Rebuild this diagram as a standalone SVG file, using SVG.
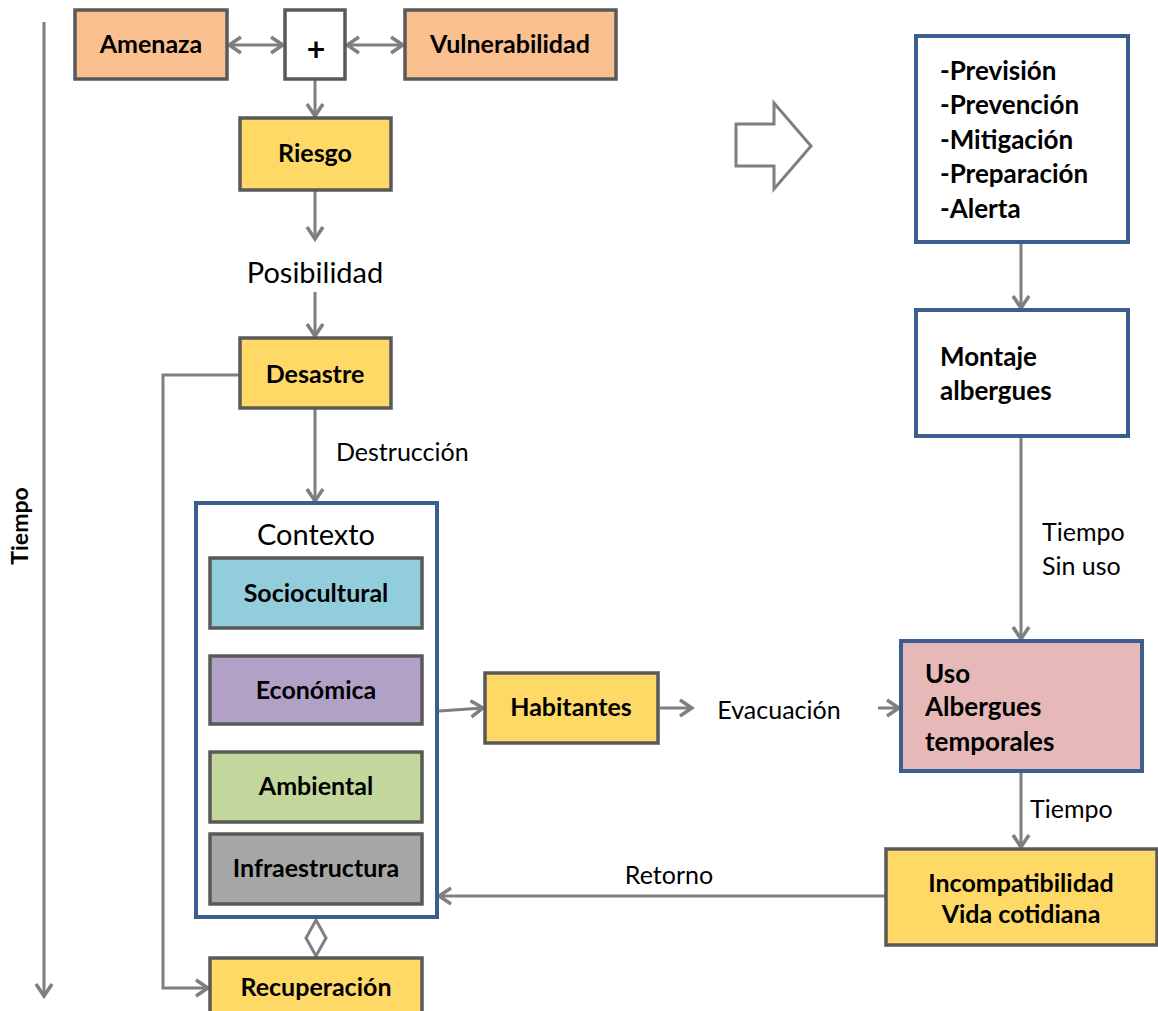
<svg xmlns="http://www.w3.org/2000/svg" width="1158" height="1011" viewBox="0 0 1158 1011">
<style>
.box{stroke:#595959;stroke-width:3.5}
.blue{stroke:#3A5F8E;stroke-width:4}
.t{font-family:Lato,"Liberation Sans",sans-serif;font-weight:bold;font-size:25px;fill:#000}
.l{font-size:26px}
.n{font-family:Lato,"Liberation Sans",sans-serif;font-size:25px;fill:#000}
.big{font-size:29px}
.c{stroke:#7F7F7F;stroke-width:3;fill:none}
</style>
<defs>
<marker id="a" viewBox="0 0 20 20" refX="17" refY="10" markerWidth="20" markerHeight="20" markerUnits="userSpaceOnUse" orient="auto-start-reverse">
<path d="M5,2 L17,10 L5,18" fill="none" stroke="#7F7F7F" stroke-width="3.5"/>
</marker>
</defs>
<rect width="1158" height="1011" fill="#fff"/>

<g id="connectors">
<line class="c" x1="44" y1="22" x2="44" y2="996" stroke-width="3.5" marker-end="url(#a)"/>
<line class="c" x1="229" y1="45" x2="283" y2="45" marker-start="url(#a)" marker-end="url(#a)"/>
<line class="c" x1="347" y1="45" x2="403" y2="45" marker-start="url(#a)" marker-end="url(#a)"/>
<line class="c" x1="315" y1="80" x2="315" y2="116" marker-end="url(#a)"/>
<line class="c" x1="315" y1="191" x2="315" y2="239" marker-end="url(#a)"/>
<line class="c" x1="315" y1="292" x2="315" y2="336" marker-end="url(#a)"/>
<line class="c" x1="315" y1="409" x2="315" y2="501" marker-end="url(#a)"/>
<polyline class="c" points="239,375 163,375 163,988 208,988" marker-end="url(#a)"/>
<line class="c" x1="439" y1="711" x2="483" y2="708" marker-end="url(#a)"/>
<line class="c" x1="660" y1="708" x2="692" y2="708" marker-end="url(#a)"/>
<line class="c" x1="878" y1="708" x2="899" y2="708" marker-end="url(#a)"/>
<line class="c" x1="1021" y1="243" x2="1021" y2="308" marker-end="url(#a)"/>
<line class="c" x1="1021" y1="437" x2="1021" y2="639" marker-end="url(#a)"/>
<line class="c" x1="1021" y1="772" x2="1021" y2="847" marker-end="url(#a)"/>
<line class="c" x1="885" y1="896" x2="439" y2="896" marker-end="url(#a)"/>
<polygon class="c" points="316,920 326,938 316,956 306,938"/>
<polygon points="736,124 774,124 774,103 811,146 774,189 774,166 736,166" fill="#fff" stroke="#7F7F7F" stroke-width="3"/>
</g>

<text class="t" transform="translate(28,526) rotate(-90)" text-anchor="middle" style="font-size:23px">Tiempo</text>

<g id="amenaza"><rect class="box" x="75" y="10" width="152" height="69" fill="#FAC090"/><text class="t" x="151" y="53" text-anchor="middle">Amenaza</text></g>
<g id="plus"><rect class="box" x="285" y="10" width="60" height="69" fill="#fff"/><text class="t" x="316" y="61" text-anchor="middle" style="font-size:32px">+</text></g>
<g id="vulnerabilidad"><rect class="box" x="405" y="10" width="211" height="69" fill="#FAC090"/><text class="t" x="510" y="53" text-anchor="middle">Vulnerabilidad</text></g>
<g id="riesgo"><rect class="box" x="240" y="118" width="151" height="72" fill="#FFD966"/><text class="t" x="315" y="162" text-anchor="middle">Riesgo</text></g>
<g id="posibilidad"><text class="n big" x="315" y="283" text-anchor="middle">Posibilidad</text></g>
<g id="desastre"><rect class="box" x="240" y="338" width="151" height="70" fill="#FFD966"/><text class="t" x="315" y="383" text-anchor="middle">Desastre</text></g>
<text class="n" x="336" y="461">Destrucción</text>

<g id="contexto">
<rect class="blue" x="196" y="503" width="241" height="414" fill="#fff"/>
<text class="n big" x="316" y="545" text-anchor="middle">Contexto</text>
</g>
<g id="sociocultural"><rect class="box" x="210" y="558" width="212" height="70" fill="#92CDDC"/><text class="t" x="316" y="602" text-anchor="middle">Sociocultural</text></g>
<g id="economica"><rect class="box" x="210" y="656" width="212" height="68" fill="#B2A1C7"/><text class="t" x="316" y="699" text-anchor="middle">Económica</text></g>
<g id="ambiental"><rect class="box" x="210" y="752" width="212" height="70" fill="#C3D69B"/><text class="t" x="316" y="795" text-anchor="middle">Ambiental</text></g>
<g id="infraestructura"><rect class="box" x="210" y="834" width="212" height="70" fill="#A6A6A6"/><text class="t" x="316" y="877" text-anchor="middle">Infraestructura</text></g>
<g id="recuperacion"><rect class="box" x="210" y="958" width="212" height="60" fill="#FFD966"/><text class="t" x="316" y="996" text-anchor="middle">Recuperación</text></g>

<g id="habitantes"><rect class="box" x="485" y="673" width="173" height="70" fill="#FFD966"/><text class="t" x="571" y="716" text-anchor="middle">Habitantes</text></g>
<text class="n" x="779" y="719" text-anchor="middle">Evacuación</text>

<g id="prevision"><rect class="blue" x="916" y="36" width="212" height="206" fill="#fff"/>
<text class="t l" x="940" y="80">-Previsión</text>
<text class="t l" x="940" y="114">-Prevención</text>
<text class="t l" x="940" y="149">-Mitigación</text>
<text class="t l" x="940" y="183">-Preparación</text>
<text class="t l" x="940" y="218">-Alerta</text>
</g>
<g id="montaje"><rect class="blue" x="916" y="310" width="212" height="126" fill="#fff"/>
<text class="t l" x="940" y="366">Montaje</text>
<text class="t l" x="940" y="400">albergues</text>
</g>
<text class="n" x="1042" y="541">Tiempo</text>
<text class="n" x="1042" y="575">Sin uso</text>
<g id="uso"><rect class="blue" x="901" y="641" width="241" height="130" fill="#E6B9B8"/>
<text class="t l" x="925" y="683">Uso</text>
<text class="t l" x="925" y="716">Albergues</text>
<text class="t l" x="925" y="751">temporales</text>
</g>
<text class="n" x="1030" y="818">Tiempo</text>
<g id="incompatibilidad"><rect class="box" x="886" y="849" width="271" height="96" fill="#FFD966"/>
<text class="t" x="1021" y="892" text-anchor="middle">Incompatibilidad</text>
<text class="t" x="1021" y="923" text-anchor="middle">Vida cotidiana</text>
</g>
<text class="n" x="669" y="884" text-anchor="middle">Retorno</text>
</svg>
